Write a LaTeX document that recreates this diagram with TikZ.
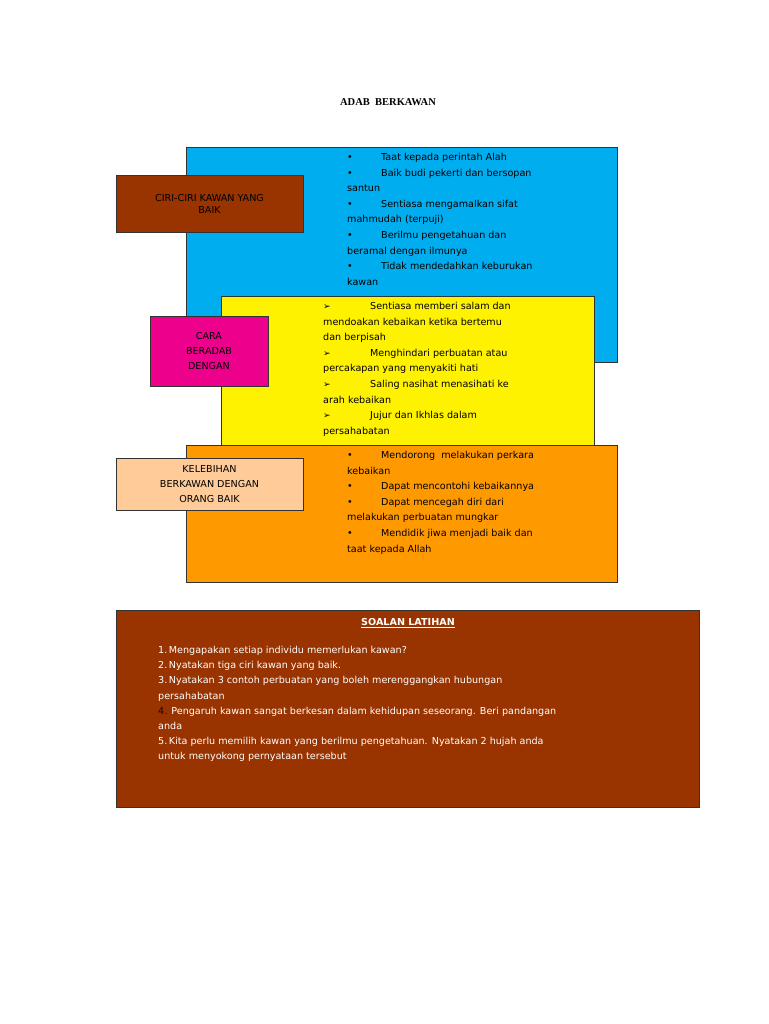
\documentclass[tikz,border=0pt]{standalone}
\usepackage{fontspec}
\setmainfont{DejaVu Sans}
\newfontfamily\titlefont{Liberation Serif}
\definecolor{brownbox}{HTML}{993300}
\definecolor{orangebox}{HTML}{FF9900}
\definecolor{peachbox}{HTML}{FFCC99}
\tikzset{
  panel/.style={draw=black!80, line width=0.6pt},
  tagbox/.style={panel, align=center, inner sep=0pt},
  listtext/.style={anchor=north west, align=left, inner sep=0pt, font=\fontsize{9.6}{15.6}\selectfont}
}
\newcommand{\bul}{\makebox[34pt][l]{•}}
\newcommand{\arr}{\makebox[47pt][l]{\small ➢}}
\begin{document}
\begin{tikzpicture}[x=1pt,y=-1pt]
	\useasboundingbox (0,0) rectangle (768,1024);
	\node[font=\titlefont\bfseries\fontsize{10.5}{12}\selectfont] (title) at (388,102) {ADAB\ \ BERKAWAN};
	% ciri-ciri
	\draw[panel, fill=cyan] (186,147) rectangle (617,362);
	\node[listtext] (ciri) at (347,153) {\bul Taat kepada perintah Alah\\
	\bul Baik budi pekerti dan bersopan\\santun\\
	\bul Sentiasa mengamalkan sifat\\mahmudah (terpuji)\\
	\bul Berilmu pengetahuan dan\\beramal dengan ilmunya\\
	\bul Tidak mendedahkan keburukan\\kawan};
	\node[tagbox, fill=brownbox, minimum width=187pt, minimum height=57pt, font=\fontsize{9.6}{12}\selectfont] (ciritag) at (209.5,203.5) {CIRI-CIRI KAWAN YANG\\BAIK};
	% cara beradab
	\draw[panel, fill=yellow] (221,296) rectangle (594,447);
	\node[listtext] (cara) at (323,302) {\arr Sentiasa memberi salam dan\\mendoakan kebaikan ketika bertemu\\dan berpisah\\
	\arr Menghindari perbuatan atau\\percakapan yang menyakiti hati\\
	\arr Saling nasihat menasihati ke\\arah kebaikan\\
	\arr Jujur dan Ikhlas dalam\\persahabatan};
	\node[tagbox, fill=magenta, minimum width=118pt, minimum height=70pt, font=\fontsize{9.6}{15}\selectfont] (caratag) at (209,351) {CARA\\BERADAB\\DENGAN};
	% kelebihan
	\draw[panel, fill=orangebox] (186,445) rectangle (617,582);
	\node[listtext] (lebih) at (347,451) {\bul Mendorong\ \ melakukan perkara\\kebaikan\\
	\bul Dapat mencontohi kebaikannya\\
	\bul Dapat mencegah diri dari\\melakukan perbuatan mungkar\\
	\bul Mendidik jiwa menjadi baik dan\\taat kepada Allah};
	\node[tagbox, fill=peachbox, minimum width=187pt, minimum height=52pt, font=\fontsize{9.6}{15}\selectfont] (lebihtag) at (209.5,484) {KELEBIHAN\\BERKAWAN DENGAN\\ORANG BAIK};
	% soalan latihan
	\node[panel, fill=brownbox, minimum width=583pt, minimum height=197pt, inner sep=0pt] (soalan) at (407.5,708.5) {};
	\node[text=white, font=\bfseries\fontsize{9.6}{12}\selectfont] (soalantitle) at (408,623) {\underline{SOALAN LATIHAN}};
	\node[listtext, text=white, font=\fontsize{9.6}{15.2}\selectfont] (soalanlist) at (158,646) {1.\,Mengapakan setiap individu memerlukan kawan?\\
	2.\,Nyatakan tiga ciri kawan yang baik.\\
	3.\,Nyatakan 3 contoh perbuatan yang boleh merenggangkan hubungan\\persahabatan\\
	{\color{black!80!brownbox}4.} Pengaruh kawan sangat berkesan dalam kehidupan seseorang. Beri pandangan\\anda\\
	5.\,Kita perlu memilih kawan yang berilmu pengetahuan. Nyatakan 2 hujah anda\\untuk menyokong pernyataan tersebut};
\end{tikzpicture}
\end{document}
